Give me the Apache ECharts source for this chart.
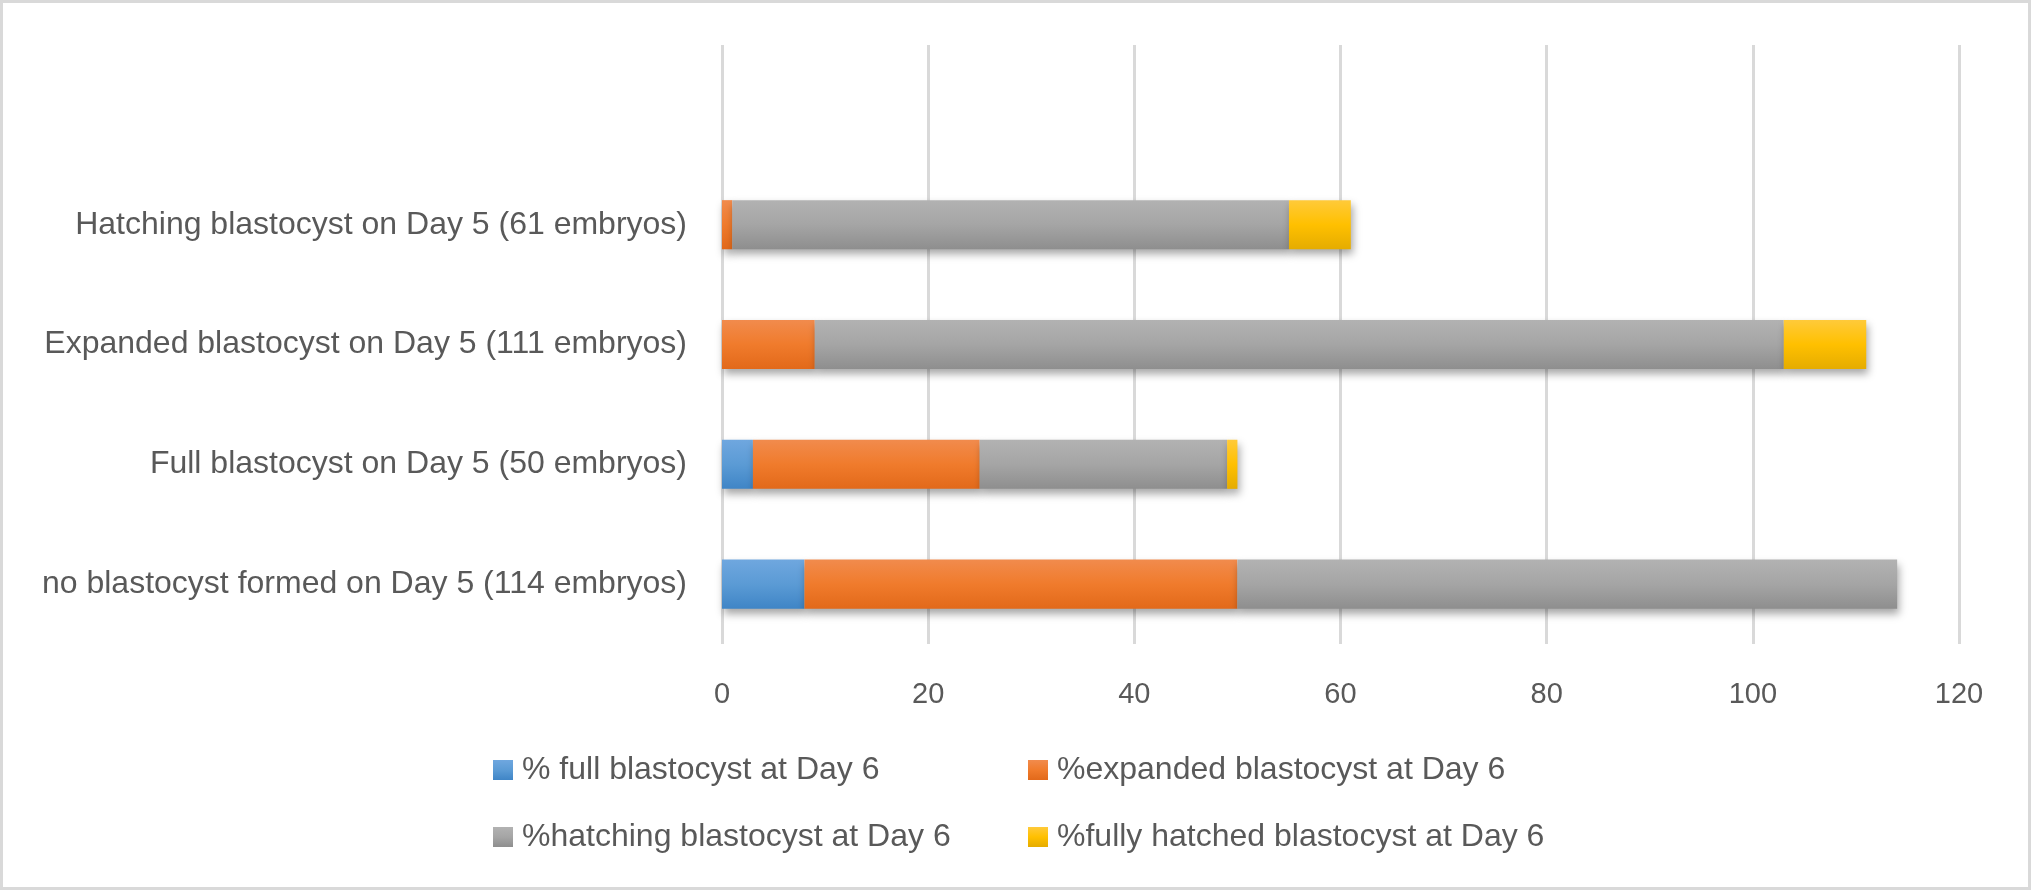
<!DOCTYPE html>
<html>
<head>
<meta charset="utf-8">
<script src="https://cdn.jsdelivr.net/npm/echarts@6/dist/echarts.min.js"></script>
<style>
html,body{margin:0;padding:0;background:#fff;}
#chart{width:2031px;height:890px;}
</style>
</head>
<body>
<div id="chart"></div>
<script>
// Categories, bottom to top (top slot is an empty category row)
const categories = [
  "no blastocyst formed on Day 5 (114 embryos)",
  "Full blastocyst on Day 5 (50 embryos)",
  "Expanded blastocyst on Day 5 (111 embryos)",
  "Hatching blastocyst on Day 5 (61 embryos)",
  ""
];
const seriesNames = [
  "% full blastocyst at Day 6",
  "%expanded blastocyst at Day 6",
  "%hatching blastocyst at Day 6",
  "%fully hatched blastocyst at Day 6"
];
const fullDay6      = [8, 3, 0, 0, null];
const expandedDay6  = [42, 22, 9, 1, null];
const hatchingDay6  = [64, 24, 94, 54, null];
const hatchedDay6   = [0, 1, 8, 6, null];
const xTicks = { min: 0, max: 120, interval: 20 };

const gradients = [
  ['#6FA7DF', '#5B9BD5', '#3F85C6'],
  ['#F18B4D', '#F07B2C', '#E2691A'],
  ['#B2B2B2', '#A5A5A5', '#8E8E8E'],
  ['#FFCA3A', '#FFC000', '#E5AC00']
];
function grad(c) {
  return new echarts.graphic.LinearGradient(0, 0, 0, 1, [
    { offset: 0, color: c[0] },
    { offset: 0.5, color: c[1] },
    { offset: 1, color: c[2] }
  ]);
}
const values = [fullDay6, expandedDay6, hatchingDay6, hatchedDay6];
const font = '"Liberation Sans", Arial, sans-serif';
const textColor = '#595959';

const chart = echarts.init(document.getElementById('chart'), null, { renderer: 'canvas' });
const legendText = {
  color: textColor, fontFamily: font, fontSize: 32, lineHeight: 34,
  width: 506, padding: [0, 0, 0, 4]
};
chart.setOption({
  animation: false,
  backgroundColor: '#ffffff',
  graphic: [{
    type: 'rect', silent: true,
    shape: { x: 1.5, y: 1.5, width: 2028, height: 887 },
    style: { fill: 'none', stroke: '#D9D9D9', lineWidth: 3 }
  }],
  grid: { left: 722, right: 72, top: 45, bottom: 246, containLabel: false },
  legend: [
    {
      data: [seriesNames[0], seriesNames[1]],
      left: 493, top: 753, orient: 'horizontal', itemGap: 0,
      itemWidth: 20, itemHeight: 20, icon: 'rect', padding: 0,
      textStyle: legendText, selectedMode: false
    },
    {
      data: [seriesNames[2], seriesNames[3]],
      left: 493, top: 820, orient: 'horizontal', itemGap: 0,
      itemWidth: 20, itemHeight: 20, icon: 'rect', padding: 0,
      textStyle: legendText, selectedMode: false
    }
  ],
  xAxis: {
    type: 'value', min: xTicks.min, max: xTicks.max, interval: xTicks.interval,
    axisLine: { show: false }, axisTick: { show: false },
    axisLabel: { color: textColor, fontFamily: font, fontSize: 29, margin: 36 },
    splitLine: { show: true, lineStyle: { color: '#D9D9D9', width: 3 } }
  },
  yAxis: {
    type: 'category', data: categories,
    axisLine: { show: false }, axisTick: { show: false },
    axisLabel: { color: textColor, fontFamily: font, fontSize: 32, margin: 35 },
    splitLine: { show: false }
  },
  series: seriesNames.map((name, i) => ({
    name: name,
    type: 'bar',
    stack: 'total',
    barWidth: '41%',
    data: values[i],
    itemStyle: {
      color: grad(gradients[i]),
      shadowColor: 'rgba(0,0,0,0.35)',
      shadowBlur: 8,
      shadowOffsetY: 5,
      shadowOffsetX: 2
    }
  }))
});
</script>
</body>
</html>
